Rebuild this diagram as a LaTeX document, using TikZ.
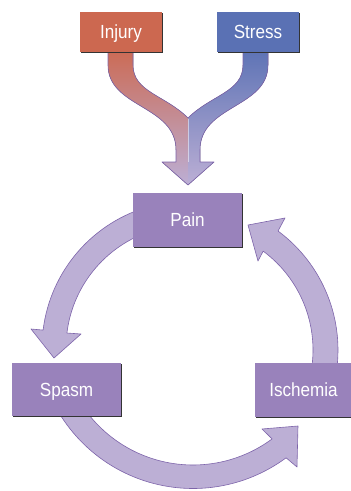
\documentclass[tikz,border=0pt]{standalone}
\usepackage{fontspec}
\newfontfamily\boxfont{Liberation Sans}[FakeStretch=0.9]
\usepackage{tikz}
\usetikzlibrary{calc}
\usetikzlibrary{shadows}
\definecolor{injuryred}{RGB}{204,104,80}
\definecolor{stressblue}{RGB}{90,113,180}
\definecolor{boxpurple}{RGB}{153,130,187}
\definecolor{arrowfill}{RGB}{188,175,213}
\definecolor{arrowedge}{RGB}{125,100,170}
\newcommand{\widthcause}{82pt}
\newcommand{\heightcause}{40pt}
\newcommand{\widthstage}{109pt}
\newcommand{\heightstage}{54pt}
\tikzset{
    common/.style={rectangle, text=white, font=\boxfont\fontsize{19}{22}\selectfont,
        text height=13.6pt, text depth=0pt,
        drop shadow={shadow xshift=1.3pt, shadow yshift=-1.3pt, fill=black!80, opacity=1}},
    cause/.style={common, minimum width=\widthcause, minimum height=\heightcause},
    stage/.style={common, fill=boxpurple, minimum width=\widthstage, minimum height=\heightstage},
    flow/.style={fill=arrowfill, draw=arrowedge, line width=0.6pt, line join=round},
    merge/.style={bottom color=arrowfill, draw=none}
}

\begin{document}
\begin{tikzpicture}[x=1pt, y=-1pt]
    \useasboundingbox (0,0) rectangle (351,491);
    \coordinate (c-left) at (189,348);
    \coordinate (c-bottom) at (193,332);
    \coordinate (c-right) at (190,350);
    \fill[merge, top color=injuryred]
        (108,45) -- (108,65) .. controls (108,108) and (176,105) .. (176,150)
        -- (176,162) -- (162,162) -- (188,185) -- (188,118)
        .. controls (165,95) and (133,92) .. (133,65) -- (133,45) -- cycle;
    \fill[merge, top color=stressblue]
        (268,45) -- (268,65) .. controls (268,108) and (200,105) .. (200,150)
        -- (200,162) -- (214,162) -- (188,185) -- (188,118)
        .. controls (211,95) and (243,92) .. (243,65) -- (243,45) -- cycle;
    \draw[arrowedge, line width=0.6pt, line join=round]
        (108,45) -- (108,65) .. controls (108,108) and (176,105) .. (176,150)
        -- (176,162) -- (162,162) -- (188,185) -- (214,162) -- (200,162) -- (200,150)
        .. controls (200,105) and (268,108) .. (268,65) -- (268,45)
        (243,45) -- (243,65) .. controls (243,92) and (211,95) .. (188,118)
        .. controls (165,95) and (133,92) .. (133,65) -- (133,45);
    \draw[white, opacity=0.5, line width=0.6pt] (188,119) -- (188,162);
    \draw[flow] ($(c-left)+(255:147)$) arc[start angle=255, end angle=187, radius=147]
        -- (31,329) -- (54,358) -- (81,334)
        -- ($(c-left)+(187:123)$) arc[start angle=187, end angle=255, radius=123] -- cycle;
    \draw[flow] ($(c-bottom)+(155:156.5)$) arc[start angle=155, end angle=53.5, radius=156.5]
        -- (297,467) -- (298,426) -- (262,429)
        -- ($(c-bottom)+(53.5:133)$) arc[start angle=53.5, end angle=155, radius=133] -- cycle;
    \draw[flow] ($(c-right)+(10:148)$) arc[start angle=10, end angle=-53.5, radius=148]
        -- (285,218) -- (248,225) -- (258,261)
        -- ($(c-right)+(-53.5:123)$) arc[start angle=-53.5, end angle=10, radius=123] -- cycle;
    \node[cause, fill=injuryred] (injury) at (121,32) {Injury};
    \node[cause, fill=stressblue] (stress) at (258,32) {Stress};
    \node[stage] (pain) at (187.5,220) {Pain};
    \node[stage, minimum height=53pt] (spasm) at (66.5,389.5) {Spasm};
    \node[stage, minimum width=97pt] (ischemia) at (303.5,390) {Ischemia};
\end{tikzpicture}
\end{document}
